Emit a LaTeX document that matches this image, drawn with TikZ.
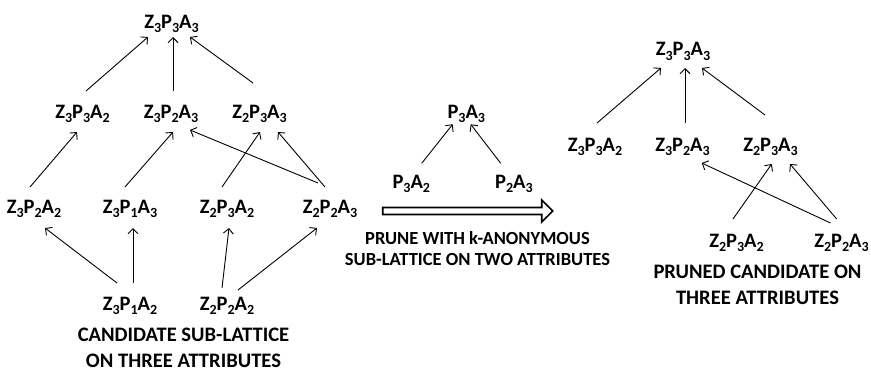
\documentclass[tikz,border=0pt]{standalone}
\usepackage{fontspec}
\setmainfont{Carlito}
\usepackage{tikz}
\usetikzlibrary{shapes.arrows, arrows.meta, positioning}

% lowered index in the label font
\newcommand{\ix}[1]{\raisebox{-4.5pt}{\fontsize{14}{14}\selectfont #1}}

\begin{document}
\begin{tikzpicture}[
    x=1pt, y=-1pt,
    lab/.style={inner sep=0pt, anchor=base, font=\bfseries\fontsize{20.5}{24}\selectfont},
    captext/.style={inner sep=0pt, anchor=north, align=center, font=\bfseries\fontsize{20.6}{25.5}\selectfont},
    smalltext/.style={inner sep=0pt, anchor=north, align=center, font=\bfseries\fontsize{18.5}{21}\selectfont},
    arr/.style={-{Straight Barb[length=5pt,width=10pt]}, line width=0.9pt}
]
\useasboundingbox (0,0) rectangle (871,372);

% candidate sub-lattice
\node[lab] (top) at (171.5,28) {Z\ix{3}P\ix{3}A\ix{3}};
\node[lab] (z332) at (82.5,118) {Z\ix{3}P\ix{3}A\ix{2}};
\node[lab] (z323) at (171,118) {Z\ix{3}P\ix{2}A\ix{3}};
\node[lab] (z233) at (259.5,118) {Z\ix{2}P\ix{3}A\ix{3}};
\node[lab] (z322) at (34,213) {Z\ix{3}P\ix{2}A\ix{2}};
\node[lab] (z313) at (130,213) {Z\ix{3}P\ix{1}A\ix{3}};
\node[lab] (z232) at (227,213) {Z\ix{2}P\ix{3}A\ix{2}};
\node[lab] (z223) at (330,213) {Z\ix{2}P\ix{2}A\ix{3}};
\node[lab] (z312) at (130,310) {Z\ix{3}P\ix{1}A\ix{2}};
\node[lab] (z222) at (227,310) {Z\ix{2}P\ix{2}A\ix{2}};
\node[captext] (capl) at (183.5,328) {CANDIDATE SUB-LATTICE\\ON THREE ATTRIBUTES};

\draw[arr] ([xshift=3.5pt,yshift=27pt]z332.base) -- ([xshift=-23.5pt,yshift=-9pt]top.base);
\draw[arr] ([xshift=2pt,yshift=27pt]z323.base) -- ([xshift=1.5pt,yshift=-9pt]top.base);
\draw[arr] ([xshift=-6.5pt,yshift=35pt]z233.base) -- ([xshift=18.5pt,yshift=-9pt]top.base);
\draw[arr] ([xshift=-4pt,yshift=26pt]z322.base) -- ([xshift=-5.5pt,yshift=-14pt]z332.base);
\draw[arr] ([xshift=-5pt,yshift=26pt]z313.base) -- ([xshift=2pt,yshift=-14pt]z323.base);
\draw[arr] ([xshift=-5pt,yshift=26pt]z232.base) -- ([xshift=0.5pt,yshift=-14pt]z233.base);
\draw[arr] ([xshift=-5pt,yshift=26pt]z223.base) -- ([xshift=18.5pt,yshift=-14pt]z233.base);
\draw[arr] ([xshift=-12pt,yshift=30pt]z223.base) -- ([xshift=19pt,yshift=-12pt]z323.base);
\draw[arr] ([xshift=-13pt,yshift=27pt]z312.base) -- ([xshift=11pt,yshift=-15pt]z322.base);
\draw[arr] ([xshift=3pt,yshift=27pt]z312.base) -- ([xshift=3pt,yshift=-15pt]z313.base);
\draw[arr] ([xshift=-5pt,yshift=22pt]z222.base) -- ([xshift=2pt,yshift=-15pt]z232.base);
\draw[arr] ([xshift=11pt,yshift=20pt]z222.base) -- ([xshift=-13pt,yshift=-15pt]z223.base);

% two-attribute sub-lattice and pruning step
\node[lab] (p33) at (466.3,118) {P\ix{3}A\ix{3}};
\node[lab] (p32) at (411.3,188) {P\ix{3}A\ix{2}};
\node[lab] (p23) at (514,188) {P\ix{2}A\ix{3}};
\draw[arr] ([xshift=10.4pt,yshift=24.7pt]p32.base) -- ([xshift=-13.6pt,yshift=-6.3pt]p33.base);
\draw[arr] ([xshift=-13.3pt,yshift=24.7pt]p23.base) -- ([xshift=4.4pt,yshift=-6.3pt]p33.base);

\node[single arrow, draw, line width=1.6pt, inner xsep=0pt, inner ysep=2.7pt,
      single arrow head extend=7.5pt, minimum height=170pt] (prune) at (466,211) {};
\node[smalltext] (capm) at (477.5,231) {PRUNE WITH k-ANONYMOUS\\SUB-LATTICE ON TWO ATTRIBUTES};

% pruned candidate
\node[lab] (rtop) at (683,56) {Z\ix{3}P\ix{3}A\ix{3}};
\node[lab] (r332) at (595,151) {Z\ix{3}P\ix{3}A\ix{2}};
\node[lab] (r323) at (682.5,151) {Z\ix{3}P\ix{2}A\ix{3}};
\node[lab] (r233) at (770.5,151) {Z\ix{2}P\ix{3}A\ix{3}};
\node[lab] (r232) at (736.5,247) {Z\ix{2}P\ix{3}A\ix{2}};
\node[lab] (r223) at (841.5,247) {Z\ix{2}P\ix{2}A\ix{3}};
\node[captext] (capr) at (757.5,265) {PRUNED CANDIDATE ON\\THREE ATTRIBUTES};

\draw[arr] ([xshift=2pt,yshift=28pt]r332.base) -- ([xshift=-22pt,yshift=-12pt]rtop.base);
\draw[arr] ([xshift=2.5pt,yshift=28pt]r323.base) -- ([xshift=2pt,yshift=-12pt]rtop.base);
\draw[arr] ([xshift=-5.5pt,yshift=36pt]r233.base) -- ([xshift=19pt,yshift=-12pt]rtop.base);
\draw[arr] ([xshift=-3.5pt,yshift=28pt]r232.base) -- ([xshift=1.2pt,yshift=-13pt]r233.base);
\draw[arr] ([xshift=-4.8pt,yshift=28pt]r223.base) -- ([xshift=19.5pt,yshift=-13pt]r233.base);
\draw[arr] ([xshift=-11pt,yshift=24pt]r223.base) -- ([xshift=19.2pt,yshift=-12pt]r323.base);

\end{tikzpicture}
\end{document}
